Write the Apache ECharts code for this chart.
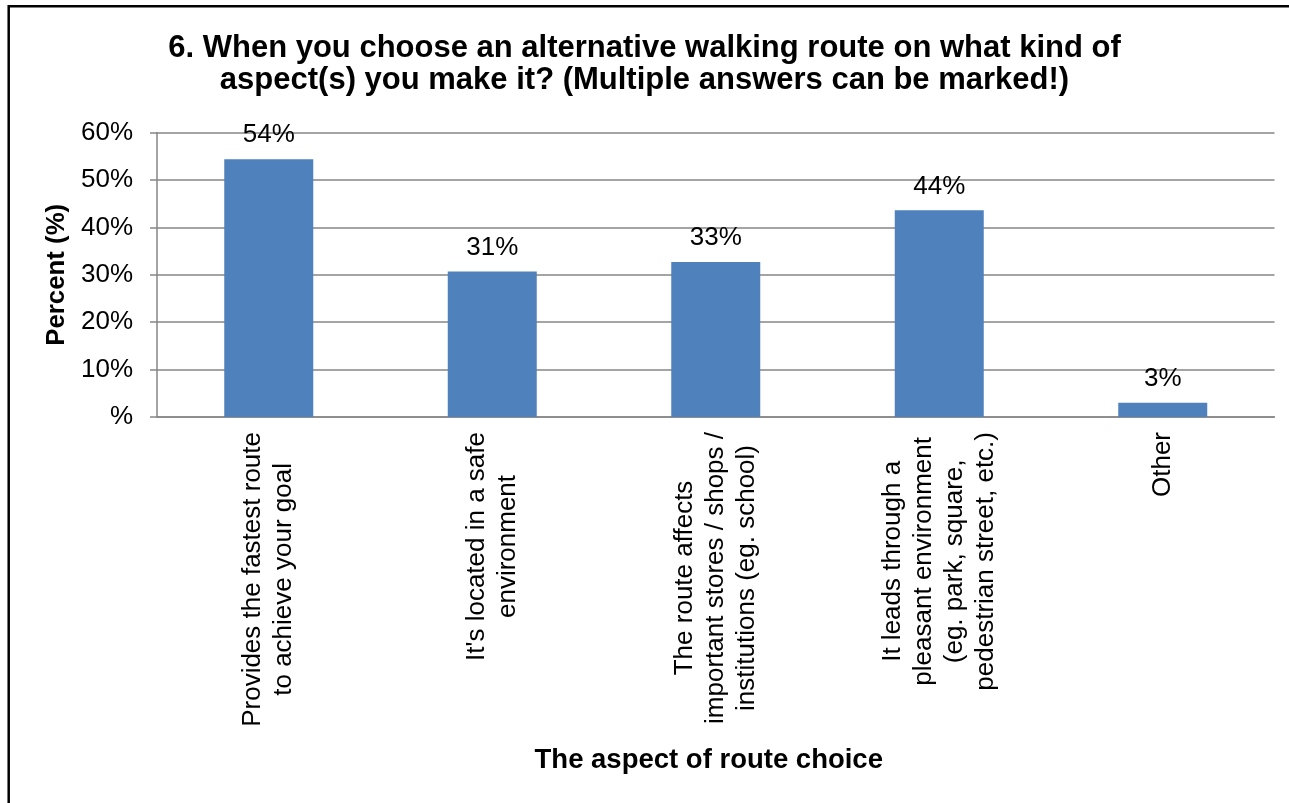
<!DOCTYPE html>
<html>
<head>
<meta charset="utf-8">
<script src="https://cdn.jsdelivr.net/npm/echarts@6/dist/echarts.min.js"></script>
<style>html,body{margin:0;padding:0;background:#fff;}#c{width:1289px;height:803px;}</style>
</head>
<body>
<div id="c"></div>
<script>
const titleText = "6. When you choose an alternative walking route on what kind of\naspect(s) you make it? (Multiple answers can be marked!)";
const categories = [
  "Provides the fastest route\nto achieve your goal",
  "It's located in a safe\nenvironment",
  "The route affects\nimportant stores / shops /\ninstitutions (eg. school)",
  "It leads through a\npleasant environment\n(eg. park, square,\npedestrian street, etc.)",
  "Other"
];
const values = [54.4, 30.7, 32.7, 43.6, 3.0];
const yTicks = [0, 10, 20, 30, 40, 50, 60];
const yAxisName = "Percent (%)";
const xAxisName = "The aspect of route choice";

const FONT = "Liberation Sans, Arial, sans-serif";
const LABEL_SIZE = 26;
const chart = echarts.init(document.getElementById('c'), null, {renderer: 'canvas'});
chart.setOption({
  animation: false,
  backgroundColor: '#fff',
  textStyle: {fontFamily: FONT, color: '#000'},
  title: {
    text: titleText,
    left: 'center',
    top: 27,
    textStyle: {fontFamily: FONT, fontSize: 31, fontWeight: 'bold', color: '#000', lineHeight: 32.5}
  },
  graphic: [{
    type: 'rect',
    shape: {x: 8.7, y: 6.2, width: 1320, height: 840},
    style: {fill: 'none', stroke: '#000', lineWidth: 2.5},
    silent: true
  }],
  grid: {left: 157, right: 14.5, top: 132.6, bottom: 386, containLabel: false},
  xAxis: {
    type: 'category',
    data: categories,
    axisLine: {lineStyle: {color: '#868686', width: 1.5}},
    axisTick: {show: false},
    axisLabel: {
      rotate: 90,
      interval: 0,
      margin: 15,
      fontSize: LABEL_SIZE,
      fontFamily: FONT,
      color: '#000',
      lineHeight: 31,
      formatter: function (v) {
        return v.split('\n').map(function (s) { return '{c|' + s + '}'; }).join('\n');
      },
      rich: {c: {align: 'center', fontSize: LABEL_SIZE, fontFamily: FONT, color: '#000', lineHeight: 31}}
    },
    name: xAxisName,
    nameLocation: 'middle',
    nameGap: 343,
    nameTextStyle: {fontFamily: FONT, fontSize: 27.5, fontWeight: 'bold', color: '#000', verticalAlign: 'middle', padding: [0, 14, 0, 0]}
  },
  yAxis: {
    type: 'value',
    min: 0,
    max: 60,
    interval: 10,
    axisLine: {show: true, lineStyle: {color: '#868686', width: 1.5}},
    axisTick: {show: true, length: 7, lineStyle: {color: '#868686', width: 1.5}},
    splitLine: {lineStyle: {color: '#868686', width: 1.5}},
    axisLabel: {
      fontSize: LABEL_SIZE,
      fontFamily: FONT,
      color: '#000',
      margin: 24,
      customValues: yTicks,
      formatter: function (v) { return v === 0 ? '%' : v + '%'; }
    },
    name: yAxisName,
    nameLocation: 'middle',
    nameGap: 98,
    nameTextStyle: {fontFamily: FONT, fontSize: 25.8, fontWeight: 'bold', color: '#000', verticalAlign: 'middle'}
  },
  series: [{
    type: 'bar',
    data: values,
    barWidth: 89,
    itemStyle: {color: '#4F81BD'},
    label: {
      show: true,
      position: 'top',
      distance: 11,
      fontSize: LABEL_SIZE,
      fontFamily: FONT,
      color: '#000',
      formatter: function (p) { return Math.round(p.value) + '%'; }
    }
  }]
});
</script>
</body>
</html>
